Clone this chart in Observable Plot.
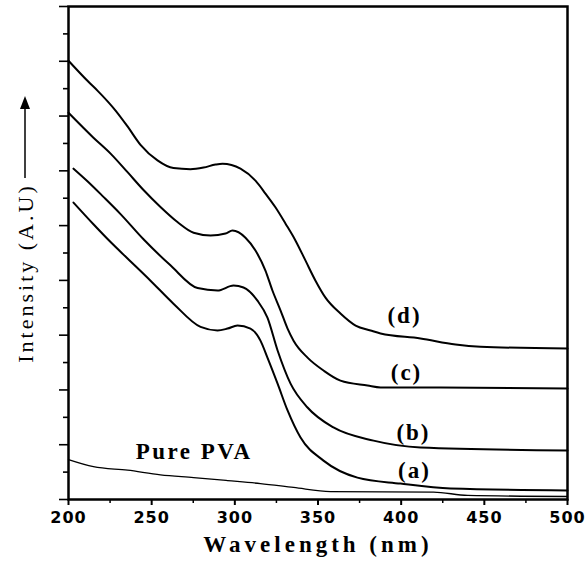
<!DOCTYPE html>
<html>
<head>
<meta charset="utf-8">
<script src="https://cdn.jsdelivr.net/npm/d3@7"></script>
<script src="https://cdn.jsdelivr.net/npm/@observablehq/plot@0.6"></script>
<style>
  html, body { margin: 0; padding: 0; background: #fff; }
  svg text.serif { font-family: "Liberation Serif", "Times New Roman", Times, serif !important; }
</style>
</head>
<body>
<div id="chart"></div>
<script>
// Wavelength (nm) / intensity (A.U)
const wlD = [200, 212, 217.4, 228.3, 235.5, 243.3, 253.5, 263.1, 273.3, 281.2, 288.4, 292.6, 303.4, 312.4, 318.4, 324.5, 330.5, 336.5, 342.5, 348.5, 354.5, 363.5, 372.6, 381.6, 387.6, 411.6, 432.7, 447.7, 500];
const inD = [16.02, 15.25, 14.93, 14.20, 13.62, 12.95, 12.38, 12.10, 12.06, 12.12, 12.23, 12.26, 12.08, 11.64, 11.17, 10.66, 10.07, 9.45, 8.72, 7.99, 7.37, 6.79, 6.35, 6.17, 6.06, 5.88, 5.66, 5.58, 5.51];

const wlC = [200, 215, 225.3, 235.5, 245.1, 255.3, 265.5, 275.2, 285.4, 294.4, 298.6, 306.4, 312.4, 318.4, 322.6, 327.5, 331.7, 335.3, 343.7, 353.3, 363.5, 379.8, 387.6, 423.7, 500];
const inC = [14.12, 13.21, 12.63, 11.95, 11.30, 10.68, 10.13, 9.74, 9.64, 9.71, 9.82, 9.56, 9.09, 8.36, 7.63, 6.90, 6.24, 5.80, 5.18, 4.71, 4.34, 4.16, 4.09, 4.09, 4.05];

const wlB = [203, 211.4, 221, 231.3, 245.1, 261.3, 277.6, 289.6, 299.2, 305.2, 313.6, 319.6, 325.7, 333.5, 343.7, 359.3, 383.4, 411.6, 500];
const inB = [12.08, 11.62, 11.05, 10.42, 9.50, 8.55, 7.72, 7.63, 7.81, 7.74, 7.26, 6.64, 5.44, 4.23, 3.36, 2.63, 2.15, 1.90, 1.79];

const wlA = [203, 215, 225.3, 235.5, 249.3, 263.1, 279.4, 289.6, 295.6, 301.6, 309.4, 315.4, 319.6, 325.7, 331.7, 339.5, 353.3, 373.7, 399.6, 429.7, 500];
const inA = [10.84, 10.05, 9.40, 8.80, 7.99, 7.15, 6.30, 6.17, 6.24, 6.35, 6.24, 5.80, 5.18, 4.23, 3.25, 2.26, 1.42, 0.80, 0.58, 0.40, 0.33];

const wlPVA = [200, 215, 235.5, 255.3, 275.2, 295.6, 315.4, 335.3, 357.5, 419.5, 439.9, 500];
const inPVA = [1.46, 1.20, 1.07, 0.90, 0.80, 0.69, 0.58, 0.44, 0.29, 0.27, 0.15, 0.11];

// curve labels
const labelText = ["(d)", "(c)", "(b)", "(a)", "Pure PVA"];
const labelWl   = [402.0, 403.2, 407.4, 408.0, 275.5];
const labelIn   = [6.72, 4.64, 2.45, 1.06, 1.75];

// axis ticks
const xMajor = [200, 250, 300, 350, 400, 450, 500];
const xMinor = [225, 275, 325, 375, 425, 475];
const yMajor = [0, 2, 4, 6, 8, 10, 12, 14, 16, 18];
const yMinor = [1, 3, 5, 7, 9, 11, 13, 15, 17];

const xTitle = "Wavelength (nm)";
const yTitle = "Intensity (A.U)";

const toRows = (wl, vals) => wl.map((w, i) => ({wl: w, v: vals[i]}));
const series = [
  {rows: toRows(wlD, inD), w: 2},
  {rows: toRows(wlC, inC), w: 2},
  {rows: toRows(wlB, inB), w: 2},
  {rows: toRows(wlA, inA), w: 2},
  {rows: toRows(wlPVA, inPVA), w: 1.3}
];
const labels = labelText.map((t, i) => ({t, wl: labelWl[i], v: labelIn[i]}));

const serif = "Liberation Serif";

const chart = Plot.plot({
  width: 585,
  height: 567,
  marginLeft: 68,
  marginRight: 18,
  marginTop: 6,
  marginBottom: 68,
  style: {background: "white", color: "black", overflow: "visible"},
  x: {domain: [200, 500]},
  y: {domain: [0, 18]},
  marks: [
    Plot.axisX({ticks: xMajor, tickSize: 6, tickPadding: 6, fontSize: 16, fontWeight: "bold",
      fontFamily: "DejaVu Sans", label: null, strokeWidth: 2, tickFormat: d => String(d)}),
    Plot.axisX({ticks: xMinor, tickSize: 4, text: null, label: null, strokeWidth: 1.5}),
    Plot.axisY({ticks: yMajor, tickSize: 9, text: null, label: null, strokeWidth: 1.6}),
    Plot.axisY({ticks: yMinor, tickSize: 5, text: null, label: null, strokeWidth: 1.6}),
    Plot.frame({stroke: "black", strokeWidth: 2.5}),
    ...series.map(s => Plot.line(s.rows, {x: "wl", y: "v", curve: "monotone-x", stroke: "black", strokeWidth: s.w})),
    Plot.text(labels, {x: "wl", y: "v", text: "t", fontFamily: serif, fontWeight: "bold", fontSize: 23, fill: "black"}),
    Plot.text([xTitle], {frameAnchor: "bottom", textAnchor: "middle", dy: 52, fontFamily: serif, fontWeight: "bold", fontSize: 23, fill: "black"}),
    Plot.text([yTitle], {frameAnchor: "left", textAnchor: "middle", dx: -43, dy: 20, rotate: -90, fontFamily: serif, fontSize: 22, fill: "black"})
  ]
});

document.getElementById("chart").appendChild(chart);

// typographic tweaks: serif face and letter spacing like the scanned original
const svg = d3.select(chart);
svg.selectAll("text").each(function() {
  const t = this.textContent;
  const el = d3.select(this);
  if (labelText.includes(t)) {
    el.classed("serif", true).style("letter-spacing", t === "Pure PVA" ? "2.5px" : "2px");
  } else if (t === xTitle) {
    el.classed("serif", true).style("letter-spacing", "4px");
  } else if (t === yTitle) {
    el.classed("serif", true).style("letter-spacing", "3px");
  } else if (/^\d+$/.test(t)) {
    el.style("letter-spacing", "1px");
  }
});

// arrow next to the y-axis title (pointing up)
const ax = 68 - 43;
const g = svg.append("g").attr("aria-label", "y-title arrow");
g.append("line").attr("x1", ax).attr("x2", ax).attr("y1", 178).attr("y2", 106)
  .attr("stroke", "black").attr("stroke-width", 1.5);
g.append("path").attr("d", `M${ax},96 L${ax - 5},109 L${ax + 5},109 Z`).attr("fill", "black");
</script>
</body>
</html>
